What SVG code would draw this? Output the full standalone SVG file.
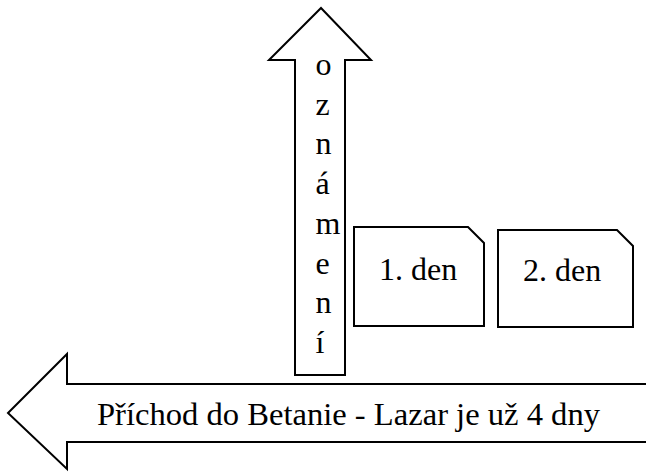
<svg xmlns="http://www.w3.org/2000/svg" width="646" height="473" viewBox="0 0 646 473">
<style>
.s{fill:#fff;stroke:#000;stroke-width:2;stroke-linejoin:miter}
.t{font-family:"Liberation Serif","Times New Roman",serif;font-size:32px;fill:#000}
</style>
<rect width="646" height="473" fill="#fff"/>
<g id="arrow-left">
<path class="s" d="M647,384 L67,384 L67,354 L8,413 L67,469 L67,442 L647,442"/>
<text class="t" x="97" y="425" style="font-size:32.6px">Příchod do Betanie - Lazar je už 4 dny</text>
</g>
<g id="arrow-up">
<path class="s" d="M295,375 L295,60 L269,60 L321,8 L371,60 L345,60 L345,375 Z"/>
<g class="t">
<text x="315.5" y="75">o</text>
<text x="315.5" y="115">z</text>
<text x="315.5" y="154">n</text>
<text x="315.5" y="194">á</text>
<text x="315.5" y="234">m</text>
<text x="315.5" y="274">e</text>
<text x="315.5" y="313">n</text>
<text x="315.5" y="353">í</text>
</g>
</g>
<g id="day1">
<path class="s" d="M354,227 L468,227 L484,243 L484,326 L354,326 Z"/>
<text class="t" x="379" y="280">1. den</text>
</g>
<g id="day2">
<path class="s" d="M498,230 L617,230 L633,246 L633,327 L498,327 Z"/>
<text class="t" x="523" y="281">2. den</text>
</g>
<g id="connectors"/>
</svg>
